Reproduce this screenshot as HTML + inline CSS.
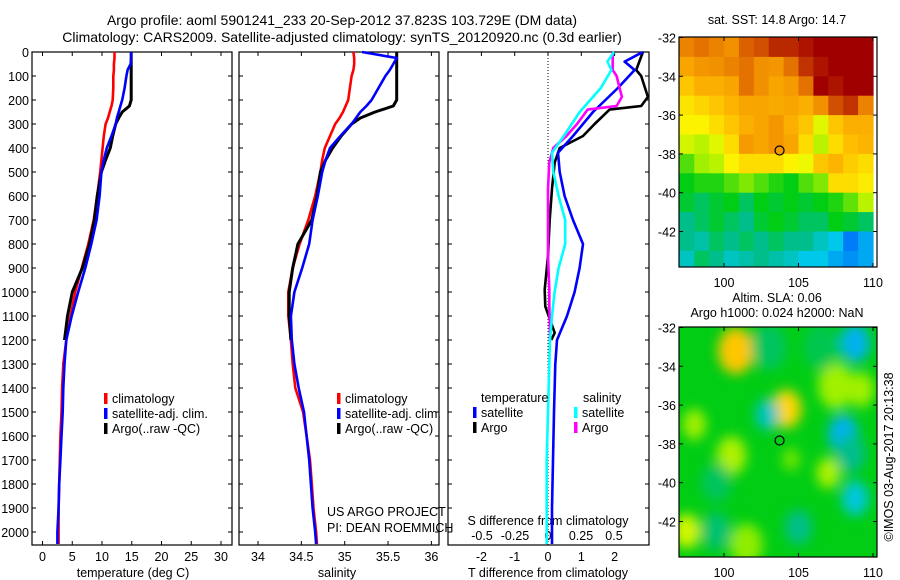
<!DOCTYPE html>
<html><head><meta charset="utf-8">
<style>
html,body{margin:0;padding:0;background:#fff;}
svg{display:block;font-family:"Liberation Sans",sans-serif;}
text{font-size:12.5px;fill:#000;}
</style></head>
<body>
<svg id="fig" width="900" height="580" viewBox="0 0 900 580" xmlns="http://www.w3.org/2000/svg">
<rect width="900" height="580" fill="#fff"/>
<text x="342" y="25" text-anchor="middle" style="font-size:14px">Argo profile: aoml 5901241_233 20-Sep-2012 37.823S 103.729E (DM data)</text>
<text x="342" y="42" text-anchor="middle" style="font-size:14px">Climatology: CARS2009. Satellite-adjusted climatology: synTS_20120920.nc (0.3d earlier)</text>
<text x="777" y="24" text-anchor="middle">sat. SST: 14.8 Argo: 14.7</text>
<text x="777" y="302" text-anchor="middle">Altim. SLA: 0.06</text>
<text x="777" y="317" text-anchor="middle">Argo h1000: 0.024 h2000: NaN</text>
<text transform="translate(893,457) rotate(-90)" text-anchor="middle">©IMOS 03-Aug-2017 20:13:38</text>
<text x="327" y="516">US ARGO PROJECT</text>
<text x="327" y="532">PI: DEAN ROEMMICH</text>
<g id="layer"></g>
</svg>
<script>
// ---------- data ----------
const depthClim = [0,25,50,75,100,150,200,225,250,275,300,350,400,450,500,600,700,800,900,1000,1100,1200,1300,1400,1500,1600,1700,1800,1900,2000,2050];
const tempClim  = [12.1,12.1,12.0,12.0,11.9,11.9,11.8,11.6,11.3,11.0,10.6,10.3,10.1,9.9,9.7,9.2,8.6,7.7,6.6,5.5,4.7,4.0,3.5,3.3,3.2,3.0,2.9,2.8,2.7,2.7,2.7];
const tempSat   = [14.9,14.9,14.8,14.3,14.1,13.8,13.4,13.1,12.8,12.5,12.3,11.6,10.8,10.3,9.9,9.6,9.1,8.2,7.2,6.0,4.9,4.0,3.7,3.5,3.4,3.2,3.0,2.8,2.7,2.5,2.5];
const depthArgo = [0,50,100,150,200,225,250,275,300,350,400,450,500,600,700,800,900,1000,1100,1200];
const tempArgo  = [14.9,14.9,14.9,14.9,14.9,14.6,13.4,12.8,12.3,11.8,11.4,10.6,9.9,9.2,8.7,7.9,6.7,5.0,4.2,3.7];
const salClim   = [35.10,35.11,35.11,35.10,35.08,35.06,35.04,35.01,34.98,34.94,34.89,34.83,34.77,34.74,34.72,34.66,34.58,34.48,34.40,34.35,34.35,34.38,34.40,34.43,34.52,34.56,34.60,34.62,34.64,34.67,34.68];
const salSat    = [35.2,35.6,35.56,35.52,35.47,35.39,35.31,35.25,35.18,35.13,35.08,34.95,34.83,34.78,34.74,34.69,34.63,34.59,34.51,34.42,34.38,34.39,34.42,34.47,34.53,34.56,34.59,34.61,34.63,34.66,34.67];
const salArgo   = [35.6,35.6,35.6,35.6,35.6,35.56,35.35,35.18,35.08,34.96,34.86,34.78,34.72,34.68,34.62,34.46,34.40,34.36,34.36,34.38];
const depthDiff = [0,40,75,150,250,350,420,500,600,700,800,900,1000,1100,1200,1300,1500,1700,1900,2050];
const dTsat     = [2.85,2.3,2.6,2.1,1.35,0.75,0.3,0.35,0.5,0.75,1.05,0.95,0.8,0.57,0.27,0.22,0.18,0.15,0.12,0.12];
const dSsat     = [0.5,0.45,0.48,0.4,0.24,0.12,0.03,0.04,0.08,0.13,0.13,0.08,0.05,0.03,0.015,0.01,0.0,-0.01,-0.01,-0.01];
const depthDiffArgo = [0,75,100,187,225,240,300,350,400,460,570,700,850,990,1060,1170,1200];
const dTargo    = [2.85,2.65,2.8,3.0,2.8,1.85,1.4,1.05,0.35,0.2,0.12,0.05,0.0,-0.1,-0.08,0.2,0.1];
const dSargo    = [0.49,0.49,0.52,0.56,0.52,0.3,0.22,0.14,0.04,0.01,0.0,0.0,0.0,0.01,0.01,0.015,0.015];
const depthTicks = [0,100,200,300,400,500,600,700,800,900,1000,1100,1200,1300,1400,1500,1600,1700,1800,1900,2000];
const tempTicks = [0,5,10,15,20,25,30];
const salTicks = [34,34.5,35,35.5,36];
const salTickLabels = ["34","34.5","35","35.5","36"];
const dTTicks = [-2,-1,0,1,2];
const dSTicks = [-0.5,-0.25,0,0.25,0.5];
const dSTickLabels = ["-0.5","-0.25","0","0.25","0.5"];
const latTicks = [-32,-34,-36,-38,-40,-42];
const lonTicks = [100,105,110];
// SST map: 13 lon cols (97..110) x 12 lat rows (-32..-44), normalized colour values
const sstGrid = [
[0.86,0.88,0.86,0.84,0.90,0.92,0.96,0.96,0.98,1,1,1,1],
[0.80,0.83,0.84,0.86,0.88,0.84,0.83,0.88,0.95,0.98,1,1,1],
[0.74,0.78,0.78,0.80,0.88,0.84,0.80,0.82,0.88,1,0.98,1,1],
[0.70,0.72,0.74,0.77,0.80,0.80,0.79,0.80,0.78,0.84,0.92,0.95,0.86],
[0.68,0.68,0.71,0.74,0.78,0.80,0.83,0.78,0.74,0.65,0.74,0.78,0.78],
[0.64,0.62,0.65,0.71,0.82,0.80,0.83,0.80,0.71,0.62,0.71,0.75,0.77],
[0.55,0.60,0.62,0.68,0.71,0.71,0.71,0.68,0.66,0.74,0.77,0.73,0.71],
[0.50,0.52,0.52,0.55,0.58,0.55,0.52,0.50,0.55,0.58,0.71,0.71,0.69],
[0.48,0.45,0.48,0.50,0.45,0.50,0.48,0.50,0.48,0.50,0.52,0.56,0.62],
[0.42,0.45,0.48,0.45,0.42,0.48,0.50,0.48,0.45,0.45,0.50,0.48,0.45],
[0.42,0.40,0.45,0.42,0.45,0.42,0.45,0.42,0.42,0.38,0.35,0.28,0.32],
[0.38,0.45,0.42,0.38,0.40,0.42,0.40,0.38,0.35,0.35,0.32,0.30,0.32]];
// SLA map blobs
const blobLon = [100.8,104.2,108.8,108.0,102.9,108.8,98.0,100.5,107.5,109.2,107.0,104.5,97.5,101.5,103.0,99.5,105.0,99.5,106.5,108.5];
const blobLat = [-33.2,-36.2,-32.8,-37.5,-36.5,-40.8,-37.0,-38.6,-35.0,-35.2,-39.5,-38.8,-42.5,-43.2,-33.0,-42.5,-42.3,-40.0,-33.0,-38.5];
const blobVal = [0.74,0.72,0.33,0.33,0.38,0.36,0.6,0.61,0.6,0.6,0.61,0.57,0.64,0.59,0.45,0.44,0.42,0.45,0.46,0.42];
const blobR   = [1.2,1.0,1.0,1.0,0.8,0.9,0.8,1.0,1.2,0.9,0.8,0.6,0.9,1.1,1.2,1.0,0.9,1.0,1.2,1.0];

// ---------- helpers ----------
const NS="http://www.w3.org/2000/svg";
const layer=document.getElementById('layer');
function el(tag,attrs,parent){const e=document.createElementNS(NS,tag);for(const k in attrs)e.setAttribute(k,attrs[k]);(parent||layer).appendChild(e);return e;}
const yD = d => 52 + d*0.24;
const xT = t => 42.5 + t*5.95;
const xS = s => 258 + (s-34)*86.7;
const xDT = v => 548 + v*33.3;
const xDS = v => 548 + v*132;
const lonX = lon => 724 + (lon-100)*14.9;
const latY1 = lat => 37.5 + (-32-lat)*19.4;
const latY2 = lat => 327.5 + (-32-lat)*19.4;

function profile(depths, vals, xf, color, name, w){
  let d='';
  for(let i=0;i<depths.length;i++){d+=(i?'L':'M')+xf(vals[i]).toFixed(1)+','+yD(depths[i]).toFixed(1);}
  const p=el('path',{d:d,fill:'none',stroke:color,'stroke-width':w||2.6,'stroke-linejoin':'round'});
  
  
}
function panel(x0,x1,name){
  const r=el('rect',{x:x0,y:52,width:x1-x0,height:493,fill:'none',stroke:'#000','stroke-width':1.2});
  
  
  depthTicks.forEach(d=>{
    el('line',{x1:x0,x2:x0+4,y1:yD(d),y2:yD(d),stroke:'#000'});
    el('line',{x1:x1,x2:x1-4,y1:yD(d),y2:yD(d),stroke:'#000'});
  });
}
function txt(x,y,s,anchor,name,size){
  const t=el('text',{x:x,y:y,'text-anchor':anchor||'start'});
  if(size)t.style.fontSize=size+'px';
  t.textContent=s;
  
  
  return t;
}
// colormap
const cStops=[[0,[0,0,140]],[0.25,[0,90,255]],[0.35,[0,200,235]],[0.42,[0,190,140]],[0.5,[0,205,20]],[0.6,[160,240,0]],[0.67,[250,250,0]],[0.75,[255,190,0]],[0.85,[240,140,0]],[0.93,[205,70,0]],[1,[160,0,0]]];
function cmap(v){v=Math.max(0,Math.min(1,v));for(let i=1;i<cStops.length;i++){if(v<=cStops[i][0]){const a=cStops[i-1],b=cStops[i];const f=(v-a[0])/(b[0]-a[0]);const c=a[1].map((x,j)=>Math.round(x+(b[1][j]-x)*f));return 'rgb('+c.join(',')+')';}}return 'rgb(160,0,0)';}

// ---------- panel 1: temperature ----------
panel(32,232,'temperature-panel');
depthTicks.forEach(d=>{txt(29,yD(d)+5,String(d),'end','depth-tick-label');});
tempTicks.forEach(t=>{
  el('line',{x1:xT(t),x2:xT(t),y1:52,y2:56,stroke:'#000'});
  el('line',{x1:xT(t),x2:xT(t),y1:545,y2:541,stroke:'#000'});
  txt(xT(t),561,String(t),'middle','temp-tick-label');
});
txt(133,577,'temperature (deg C)','middle','temperature-axis-title');
profile(depthClim,tempClim,xT,'#ff0000','temp-climatology-line');
profile(depthArgo,tempArgo,xT,'#000000','temp-argo-line',3);
profile(depthClim,tempSat,xT,'#0000ff','temp-satellite-line');

// ---------- panel 2: salinity ----------
panel(239,439,'salinity-panel');
salTicks.forEach((s,i)=>{
  el('line',{x1:xS(s),x2:xS(s),y1:52,y2:56,stroke:'#000'});
  el('line',{x1:xS(s),x2:xS(s),y1:545,y2:541,stroke:'#000'});
  txt(xS(s),561,salTickLabels[i],'middle','salinity-tick-label');
});
txt(337,577,'salinity','middle','salinity-axis-title');
profile(depthClim,salClim,xS,'#ff0000','sal-climatology-line');
profile(depthArgo,salArgo,xS,'#000000','sal-argo-line',3);
profile(depthClim,salSat,xS,'#0000ff','sal-satellite-line');

// legends
function legend(x,y,items,prefix){
  items.forEach((it,i)=>{
    const r=el('rect',{x:x,y:y+i*15-9,width:3.5,height:11,fill:it[1]});
    
    
    txt(x+8,y+i*15+1,it[0],'start',prefix+'-label');
  });
}
legend(104,402,[['climatology','#ff0000'],['satellite-adj. clim.','#0000ff'],['Argo(..raw -QC)','#000000']],'temp-legend');
legend(337,402,[['climatology','#ff0000'],['satellite-adj. clim.','#0000ff'],['Argo(..raw -QC)','#000000']],'sal-legend');

// ---------- panel 3: differences ----------
panel(448,649,'difference-panel');
el('line',{x1:548,x2:548,y1:52,y2:545,stroke:'#000','stroke-dasharray':'1,2'});
dTTicks.forEach(v=>{
  el('line',{x1:xDT(v),x2:xDT(v),y1:52,y2:56,stroke:'#000'});
  txt(xDT(v),561,String(v),'middle','tdiff-tick-label');
});
dSTicks.forEach((v,i)=>{txt(xDS(v),540,dSTickLabels[i],'middle','sdiff-tick-label');});
txt(548,525,'S difference from climatology','middle','sdiff-axis-title');
txt(548,577,'T difference from climatology','middle','tdiff-axis-title');
profile(depthDiffArgo,dTargo,xDT,'#000000','tdiff-argo-line');
profile(depthDiff,dTsat,xDT,'#0000ff','tdiff-satellite-line');
profile(depthDiffArgo,dSargo,xDS,'#ff00ff','sdiff-argo-line');
profile(depthDiff,dSsat,xDS,'#00ffff','sdiff-satellite-line');
txt(481,402,'temperature','start','diff-legend-temperature-header');
txt(583,402,'salinity','start','diff-legend-salinity-header');
legend(473,416,[['satellite','#0000ff'],['Argo','#000000']],'diff-legend-temp');
legend(574,416,[['satellite','#00ffff'],['Argo','#ff00ff']],'diff-legend-sal');

// ---------- maps ----------
const defs=el('defs',{});
const c1=el('clipPath',{id:'clip1'},defs);el('rect',{x:679,y:37,width:198,height:230},c1);
const c2=el('clipPath',{id:'clip2'},defs);el('rect',{x:679,y:327,width:198,height:230},c2);
const blur=el('filter',{id:'blr',x:'-50%',y:'-50%',width:'200%',height:'200%'},defs);el('feGaussianBlur',{stdDeviation:6},blur);

// SST heatmap
const g1=el('g',{'clip-path':'url(#clip1)'});


sstGrid.forEach((row,ri)=>{row.forEach((v,ci)=>{
  const x=lonX(97+ci), y=latY1(-32-ri);
  const c=el('rect',{x:x.toFixed(1),y:y.toFixed(1),width:15.5,height:19.8,fill:cmap(v)},g1);
  
  
});});
// SLA map
const g2=el('g',{'clip-path':'url(#clip2)'});


el('rect',{x:679,y:327,width:198,height:230,fill:cmap(0.5)},g2);
const gb=el('g',{filter:'url(#blr)'},g2);
blobLon.forEach((lon,i)=>{
  const b=el('ellipse',{cx:lonX(lon),cy:latY2(blobLat[i]),rx:blobR[i]*14.9,ry:blobR[i]*19.4,fill:cmap(blobVal[i])},gb);
  
  
});
function mapAxes(top,latY,name){
  const r=el('rect',{x:679,y:top,width:198,height:230,fill:'none',stroke:'#000','stroke-width':1.2});
  
  
  latTicks.forEach(l=>{
    el('line',{x1:679,x2:683,y1:latY(l),y2:latY(l),stroke:'#000'});
    el('line',{x1:877,x2:873,y1:latY(l),y2:latY(l),stroke:'#000'});
    txt(676,latY(l)+5,String(l),'end','lat-tick-label');
  });
  lonTicks.forEach(l=>{
    el('line',{x1:lonX(l),x2:lonX(l),y1:top,y2:top+4,stroke:'#000'});
    el('line',{x1:lonX(l),x2:lonX(l),y1:top+230,y2:top+226,stroke:'#000'});
    txt(lonX(l),top+250,String(l),'middle','lon-tick-label');
  });
  const m=el('circle',{cx:lonX(103.729),cy:latY(-37.823),r:4.5,fill:'none',stroke:'#000','stroke-width':1.2});
  
  
}
mapAxes(37,latY1,'sst-map-frame');
mapAxes(327,latY2,'sla-map-frame');
</script>
</body></html>
